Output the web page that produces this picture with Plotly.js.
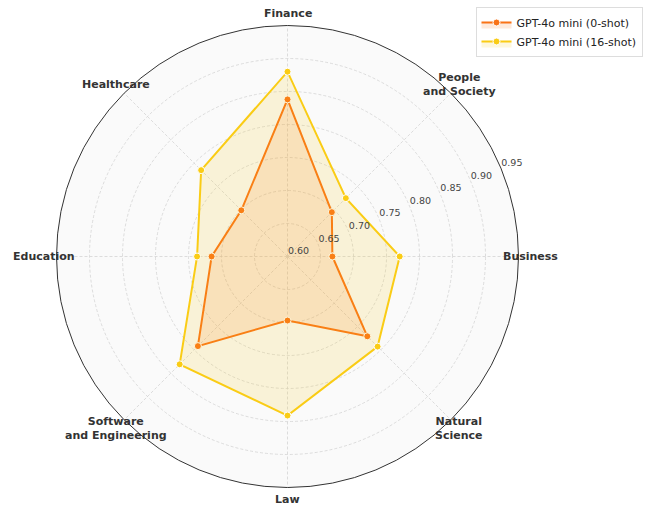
<!DOCTYPE html>
<html>
<head>
<meta charset="utf-8">
<script src="https://cdn.plot.ly/plotly-3.0.1.min.js"></script>
<style>
html,body{margin:0;padding:0;background:#fff;}
#chart{width:653px;height:508px;}
</style>
</head>
<body>
<div id="chart"></div>
<script>
// ---- data ----
const categories = ["Business", "People and Society", "Finance", "Healthcare", "Education", "Software and Engineering", "Law", "Natural Science"];
const categoryLabels = ["Business", "People<br>and Society", "Finance", "Healthcare", "Education", "Software<br>and Engineering", "Law", "Natural<br>Science"];
const zeroShot = [0.668, 0.695, 0.838, 0.699, 0.715, 0.792, 0.697, 0.771];
const sixteenShot = [0.770, 0.725, 0.880, 0.785, 0.737, 0.831, 0.841, 0.793];
const seriesNames = ["GPT-4o mini (0-shot)", "GPT-4o mini (16-shot)"];
const radialTicks = [0.60, 0.65, 0.70, 0.75, 0.80, 0.85, 0.90, 0.95];

// ---- layout constants ----
const W = 653, H = 508;
const cx = 287.5, cy = 256.5, R = 231;
const rMin = 0.60, rMax = 0.95;
const labelR = 243;
const rLabelAngle = 22.5;
const rLabelPad = 0.018;   // radial offset of tick labels (matplotlib style)
const rMax2 = rMax + 0.02; // overlay subplot with a little more room for labels
const R2 = R * (rMax2 - rMin) / (rMax - rMin);

const n = categories.length;
const angles = categories.map((c, i) => i * 360 / n);
function closed(arr){ return arr.concat([arr[0]]); }

const traces = [
  {
    type: "scatterpolar",
    r: closed(zeroShot),
    theta: closed(angles),
    name: seriesNames[0],
    mode: "lines+markers",
    fill: "toself",
    fillcolor: "rgba(249,115,22,0.15)",
    line: {color: "#f97316", width: 2},
    marker: {color: "#f97316", size: 7, line: {color: "#ffffff", width: 1}},
    hoverinfo: "skip"
  },
  {
    type: "scatterpolar",
    r: closed(sixteenShot),
    theta: closed(angles),
    name: seriesNames[1],
    mode: "lines+markers",
    fill: "toself",
    fillcolor: "rgba(250,204,21,0.15)",
    line: {color: "#facc15", width: 2},
    marker: {color: "#facc15", size: 7, line: {color: "#ffffff", width: 1}},
    hoverinfo: "skip"
  },
  {
    type: "scatterpolar",
    subplot: "polar2",
    r: radialTicks.map(v => v + rLabelPad),
    theta: radialTicks.map(() => rLabelAngle),
    text: radialTicks.map(v => v.toFixed(2)),
    mode: "text",
    textposition: "middle center",
    textfont: {family: "DejaVu Sans", size: 9.5, color: "#444444"},
    cliponaxis: false,
    showlegend: false,
    hoverinfo: "skip"
  }
];

const annotations = categories.map((c, i) => {
  const ang = angles[i] * Math.PI / 180;
  return {
    text: "<b>" + categoryLabels[i] + "</b>",
    xref: "paper", yref: "paper",
    x: (cx + labelR * Math.cos(ang)) / W,
    y: (H - cy + labelR * Math.sin(ang)) / H,
    xanchor: "center", yanchor: "middle",
    align: "center",
    showarrow: false,
    font: {family: "DejaVu Sans", size: 11, color: "#333333"}
  };
});

const layout = {
  width: W, height: H,
  margin: {l: 0, r: 0, t: 0, b: 0},
  paper_bgcolor: "#ffffff",
  font: {family: "DejaVu Sans", color: "#333333"},
  showlegend: true,
  legend: {
    x: 642.5 / W, xanchor: "right",
    y: 1 - 7 / H, yanchor: "top",
    bgcolor: "#ffffff",
    bordercolor: "#dddddd", borderwidth: 1,
    font: {family: "DejaVu Sans", size: 11, color: "#222222"},
    tracegroupgap: 0
  },
  polar: {
    domain: {
      x: [(cx - R) / W, (cx + R) / W],
      y: [(H - cy - R) / H, (H - cy + R) / H]
    },
    bgcolor: "#fafafa",
    radialaxis: {
      range: [rMin, rMax],
      tickvals: radialTicks,
      showticklabels: false,
      angle: rLabelAngle,
      showline: false,
      ticks: "",
      gridcolor: "#d4d4d4",
      gridwidth: 0.8,
      griddash: "3px,2px"
    },
    angularaxis: {
      type: "linear",
      thetaunit: "degrees",
      direction: "counterclockwise",
      rotation: 0,
      tickvals: angles,
      ticktext: categories,
      showticklabels: false,
      ticks: "",
      showline: true,
      linecolor: "#333333",
      linewidth: 1,
      gridcolor: "#d4d4d4",
      gridwidth: 0.8,
      griddash: "3px,2px"
    }
  },
  polar2: {
    domain: {
      x: [(cx - R2) / W, (cx + R2) / W],
      y: [(H - cy - R2) / H, (H - cy + R2) / H]
    },
    bgcolor: "rgba(0,0,0,0)",
    radialaxis: {range: [rMin, rMax2], visible: false},
    angularaxis: {
      type: "linear", thetaunit: "degrees",
      direction: "counterclockwise", rotation: 0,
      visible: false
    }
  },
  annotations: annotations
};

Plotly.newPlot("chart", traces, layout, {displayModeBar: false, staticPlot: true});
</script>
</body>
</html>
